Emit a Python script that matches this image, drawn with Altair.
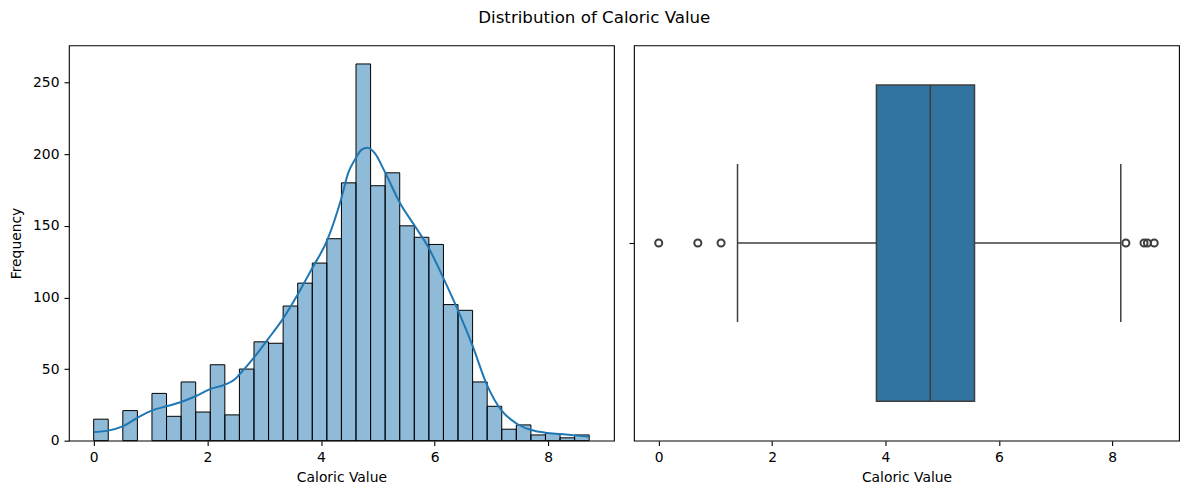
import altair as alt
import numpy as np
import pandas as pd

# histogram: counts of 34 equal-width bins between the data min and max
counts = [15, 0, 21, 0, 33, 17, 41, 20, 53, 18, 50, 69, 68, 94, 110, 124, 141, 180,
          263, 178, 187, 150, 142, 137, 95, 91, 41, 24, 8, 11, 4, 5, 2, 4]
data_min, data_max = 0.0, 8.72

# kde curve (in count units)
kde_x = [0.0, 0.25, 0.51, 0.77, 1.02, 1.28, 1.54, 1.79, 2.05, 2.30, 2.49, 2.56, 2.82,
         3.07, 3.33, 3.59, 3.84, 4.11, 4.35, 4.48, 4.61, 4.71, 4.82, 4.95, 5.12, 5.39,
         5.65, 5.89, 6.16, 6.40, 6.67, 6.92, 7.18, 7.44, 7.70, 7.95, 8.21, 8.46, 8.72]
kde_y = [6, 7, 10, 16, 21, 24, 27, 31, 36, 39, 43, 46, 58,
         71, 85, 102, 120, 140, 168, 187, 197, 203, 204.5, 200.5, 188, 166,
         150, 135, 113, 92, 66, 39, 21, 12, 7.4, 5.6, 4.6, 3.7, 2.8]

# box plot summary
q1, median, q3 = 3.84, 4.79, 5.57
whisker_lo, whisker_hi = 1.39, 8.15
outliers = [0.0, 0.69, 1.10, 8.24, 8.56, 8.62, 8.74]

BLUE = "#1f77b4"
BOX = "#3274a1"
LINE = "#3f3f3f"
W, H = 546, 396

edges = np.linspace(data_min, data_max, len(counts) + 1)
hist_df = pd.DataFrame({"x0": edges[:-1], "x1": edges[1:], "count": counts})
hist_df = hist_df[hist_df["count"] > 0]
kde_df = pd.DataFrame({"x": kde_x, "y": kde_y})

x_hist = alt.Scale(domain=[-0.436, 9.156], nice=False, zero=False)
y_hist = alt.Scale(domain=[0, 276], nice=False)

bars = alt.Chart(hist_df).mark_rect(
    fill=BLUE, fillOpacity=0.5, stroke="black", strokeWidth=1
).encode(
    x=alt.X("x0:Q", scale=x_hist, title="Caloric Value",
            axis=alt.Axis(values=[0, 2, 4, 6, 8], format="d")),
    x2="x1:Q",
    y=alt.Y("count:Q", scale=y_hist, title="Frequency",
            axis=alt.Axis(values=[0, 50, 100, 150, 200, 250])),
    y2=alt.datum(0),
)

kde = alt.Chart(kde_df).mark_line(
    color=BLUE, strokeWidth=2, interpolate="monotone"
).encode(x="x:Q", y="y:Q")

hist = alt.layer(bars, kde).properties(width=W, height=H)

# box plot panel
x_box = alt.Scale(domain=[-0.437, 9.177], nice=False, zero=False)
y_box = alt.Scale(domain=[0.5, -0.5], nice=False, zero=False)
x_box_enc = alt.X("x:Q", scale=x_box, title="Caloric Value",
                  axis=alt.Axis(values=[0, 2, 4, 6, 8], format="d"))
y_box_enc = alt.Y("y:Q", scale=y_box, title=None,
                  axis=alt.Axis(values=[0], labels=False))

box_df = pd.DataFrame({"x": [q1], "x2": [q3], "y": [-0.4], "y2": [0.4]})
box = alt.Chart(box_df).mark_rect(
    fill=BOX, stroke=LINE, strokeWidth=1.5
).encode(x=x_box_enc, x2="x2:Q", y=y_box_enc, y2="y2:Q")

med_df = pd.DataFrame({"x": [median], "y": [-0.4], "y2": [0.4]})
med = alt.Chart(med_df).mark_rule(color=LINE, strokeWidth=1.5).encode(
    x=x_box_enc, y=y_box_enc, y2="y2:Q")

whisk_df = pd.DataFrame({"x": [whisker_lo, q3], "x2": [q1, whisker_hi], "y": [0, 0]})
whisk = alt.Chart(whisk_df).mark_rule(color=LINE, strokeWidth=1.5).encode(
    x=x_box_enc, x2="x2:Q", y=y_box_enc)

cap_df = pd.DataFrame({"x": [whisker_lo, whisker_hi], "y": [-0.2, -0.2], "y2": [0.2, 0.2]})
caps = alt.Chart(cap_df).mark_rule(color=LINE, strokeWidth=1.5).encode(
    x=x_box_enc, y=y_box_enc, y2="y2:Q")

out_df = pd.DataFrame({"x": outliers, "y": [0] * len(outliers)})
fliers = alt.Chart(out_df).mark_point(
    shape="circle", filled=False, color=LINE, size=50, strokeWidth=2, opacity=1
).encode(x=x_box_enc, y=y_box_enc)

boxplot = alt.layer(box, whisk, caps, med, fliers).properties(width=W, height=H)

chart = alt.hconcat(hist, boxplot, spacing=20, bounds="flush").properties(
    title=alt.TitleParams(
        "Distribution of Caloric Value", anchor="middle", frame="bounds",
        fontSize=16.7, fontWeight="normal", font="DejaVu Sans", color="black",
        offset=18,
    ),
    padding={"left": 1, "top": 1, "right": 1, "bottom": 0},
).configure(
    font="DejaVu Sans",
).configure_view(
    stroke="black", strokeWidth=1.1,
).configure_axis(
    domain=False, grid=False,
    tickSize=4.9, tickWidth=1.1, tickColor="black",
    labelFontSize=13.9, labelColor="black", labelPadding=5,
    labelFont="DejaVu Sans", titleFont="DejaVu Sans",
    titleFontSize=13.9, titleFontWeight="normal", titleColor="black",
).configure_axisX(
    titlePadding=6,
).configure_axisY(
    titlePadding=9,
)

chart.save("out.html", embed_options={"renderer": "svg", "actions": False})
